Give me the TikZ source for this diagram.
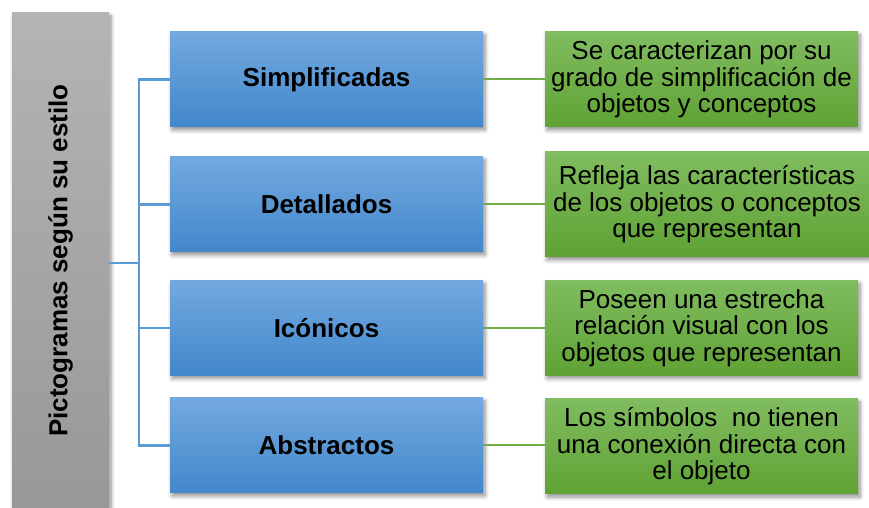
\documentclass[tikz,border=0pt]{standalone}
\usepackage{fontspec}
\usepackage{graphicx}
\setmainfont{Liberation Sans}
\usetikzlibrary{shadows,shadows.blur}
\definecolor{bluetop}{RGB}{115,169,223}
\definecolor{bluebot}{RGB}{66,135,203}
\definecolor{greentop}{RGB}{128,188,96}
\definecolor{greenbot}{RGB}{96,162,52}
\definecolor{graytop}{RGB}{180,180,180}
\definecolor{graybot}{RGB}{152,152,152}
\definecolor{blueline}{RGB}{91,155,213}
\definecolor{greenline}{RGB}{112,173,71}
\tikzset{
  shad/.style={blur shadow={shadow xshift=2pt,shadow yshift=-3pt,shadow blur steps=6,shadow blur radius=4pt,shadow opacity=45}},
  catbox/.style={rectangle, shade, top color=bluetop, bottom color=bluebot, minimum width=313pt, minimum height=95pt, inner sep=0pt, font=\fontsize{26}{26.5}\selectfont\bfseries, shad},
  descbox/.style={rectangle, shade, top color=greentop, bottom color=greenbot, minimum width=313pt, minimum height=95pt, inner sep=0pt, align=center, font=\fontsize{26}{26.5}\selectfont, shad},
  rootbox/.style={rectangle, shade, top color=graytop, bottom color=graybot, minimum width=97pt, minimum height=495pt, inner sep=0pt, font=\fontsize{26}{26.5}\selectfont\bfseries, shad},
  bline/.style={draw=blueline, line width=2.5pt},
  gline/.style={draw=greenline, line width=2pt}
}
\begin{document}
\begin{tikzpicture}[x=1pt,y=1pt]
\useasboundingbox (0,0) rectangle (869,508);
\node[rootbox] (root) at (60.5,247.5) {\rotatebox{90}{Pictogramas según su estilo}};
\node[catbox] (b1) at (326.5,428.5) {Simplificadas};
\node[catbox] (b2) at (326.5,303.5) {Detallados};
\node[catbox] (b3) at (326.5,180) {Icónicos};
\node[catbox] (b4) at (326.5,62.5) {Abstractos};
\node[descbox] (d1) at (701.5,428.5) {Se caracterizan por su\\grado de simplificación de\\objetos y conceptos};
\node[descbox, minimum width=324pt, minimum height=105pt] (d2) at (707,303.5) {Refleja las características\\de los objetos o conceptos\\que representan};
\node[descbox] (d3) at (701.5,180) {Poseen una estrecha\\relación visual con los\\objetos que representan};
\node[descbox] (d4) at (701.5,61.5) {Los símbolos\ \ no tienen\\una conexión directa con\\el objeto};
\coordinate (jn) at (139,245);
\draw[bline] (root.east |- jn) -- (jn);
\draw[bline] (b1.west) -- (jn |- b1.west) -- (jn |- b4.west) -- (b4.west);
\draw[bline] (b2.west) -- (jn |- b2.west);
\draw[bline] (b3.west) -- (jn |- b3.west);
\draw[gline] (b1.east) -- (d1.west |- b1.east);
\draw[gline] (b2.east) -- (d2.west |- b2.east);
\draw[gline] (b3.east) -- (d3.west |- b3.east);
\draw[gline] (b4.east) -- (d4.west |- b4.east);
\end{tikzpicture}
\end{document}
